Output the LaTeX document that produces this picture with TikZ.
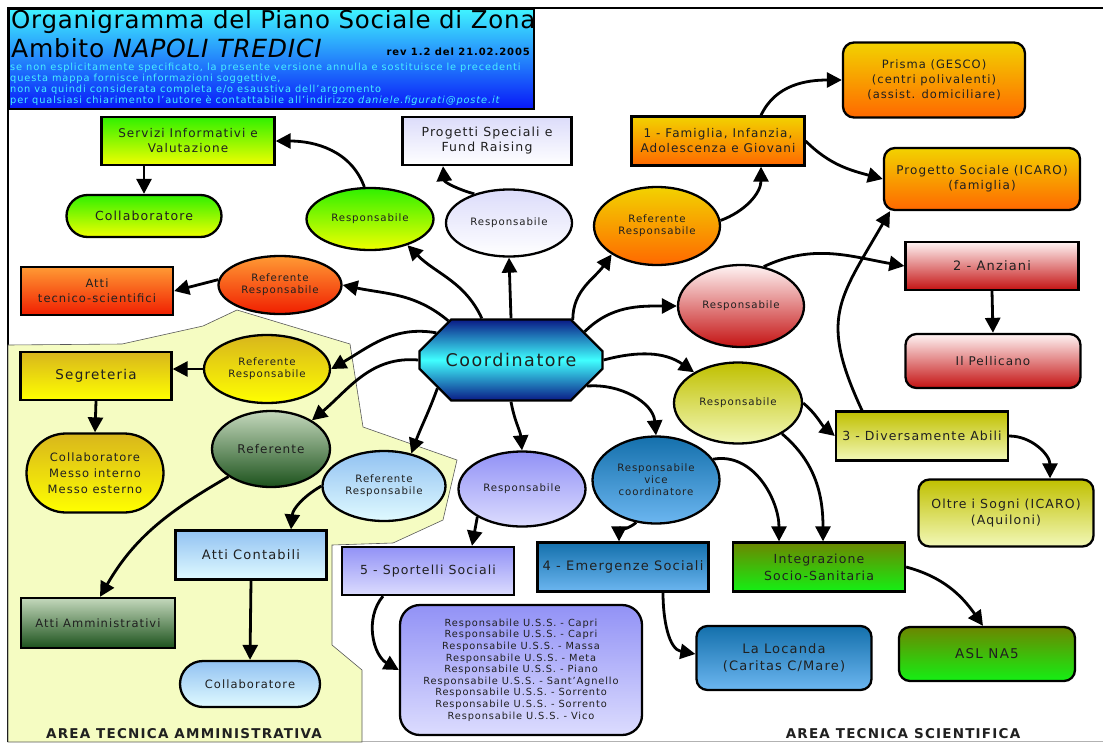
\documentclass[tikz,border=0pt]{standalone}
\usepackage{fontspec}
\setmainfont{DejaVu Sans}[LetterSpace=9]
\newfontfamily\titlefont{DejaVu Sans}[LetterSpace=3]
\usetikzlibrary{arrows.meta,shapes.geometric,shapes.misc}

% colours of the chart
\definecolor{ink}{HTML}{202020}
\definecolor{areaFill}{HTML}{F5FCC2}
\definecolor{hdrT}{HTML}{40F4FF}
\definecolor{hdrB}{HTML}{0818F8}
\definecolor{noteC}{HTML}{48F0FF}
\definecolor{crdE}{HTML}{0A1A86}
\definecolor{crdM}{HTML}{40FFFF}
\definecolor{grnT}{HTML}{30F000}
\definecolor{grnB}{HTML}{F0FF00}
\definecolor{lavT}{HTML}{DCDCFA}
\definecolor{lavB}{HTML}{FFFFFF}
\definecolor{redT}{HTML}{FF9A34}
\definecolor{redB}{HTML}{F01E00}
\definecolor{orgT}{HTML}{F2D200}
\definecolor{orgB}{HTML}{FF6800}
\definecolor{pnkT}{HTML}{FFF4F4}
\definecolor{pnkB}{HTML}{C41212}
\definecolor{olvT}{HTML}{C0C000}
\definecolor{olvB}{HTML}{F2F8B8}
\definecolor{bluT}{HTML}{1470AC}
\definecolor{bluB}{HTML}{6CB6F0}
\definecolor{isgT}{HTML}{6C8600}
\definecolor{isgB}{HTML}{14F014}
\definecolor{purT}{HTML}{9292F6}
\definecolor{purB}{HTML}{DCDCFE}
\definecolor{yelT}{HTML}{D8B61C}
\definecolor{yelB}{HTML}{FFFF00}
\definecolor{dgrT}{HTML}{C4D8BC}
\definecolor{dgrB}{HTML}{1C521C}
\definecolor{lbT}{HTML}{92C2F2}
\definecolor{lbB}{HTML}{E0FAFF}

\tikzset{
  fs/.style={font=\fontsize{#1}{15}\selectfont},
  box/.style 2 args={draw=black, line width=2.3pt, top color=#1, bottom color=#2,
    text=ink, align=center, inner sep=0pt, font=\fontsize{12.5}{15}\selectfont},
  rbox/.style 2 args={box={#1}{#2}, rounded corners=11pt},
  pill/.style 2 args={box={#1}{#2}, rounded rectangle},
  oval/.style 2 args={box={#1}{#2}, ellipse, font=\fontsize{10.2}{12}\selectfont},
  note/.style={anchor=west, inner sep=0pt, text=noteC, font=\fontsize{9.8}{11}\selectfont},
  link/.style={line width=2.8pt, -{Triangle[length=15pt,width=15pt]}},
}

\begin{document}
\begin{tikzpicture}[x=1pt,y=1pt]
\useasboundingbox (0,0) rectangle (1103,-742);

% page frame
\draw[line width=2pt] (8,-742) -- (8,-8) -- (1103,-8);
\draw[gray!60, line width=1pt] (8,-741) -- (1103,-741);

% area tecnica amministrativa (background)
\filldraw[fill=areaFill, draw=gray!70!black, line width=0.6pt]
  (8,-345) -- (122,-344) -- (203,-326) -- (237,-310) -- (350,-344) -- (363,-427)
  -- (457,-460) -- (443,-520) -- (393,-543) -- (332,-545) -- (332,-645)
  -- (362,-670) -- (362,-742) -- (8,-742) -- cycle;

% header
\node[draw=black, line width=1.5pt, top color=hdrT, bottom color=hdrB, anchor=north west,
  minimum width=525pt, minimum height=100pt, inner sep=0pt] (header) at (8,-8) {};
\node[anchor=west, inner sep=0pt, font=\titlefont\fontsize{24.5}{26}\selectfont] (title) at (11,-22)
  {Organigramma del Piano Sociale di Zona};
\node[anchor=west, inner sep=0pt, font=\titlefont\fontsize{25}{26}\selectfont] (ambito) at (11,-48)
  {Ambito \textit{NAPOLI TREDICI}};
\node[anchor=east, inner sep=0pt, font=\bfseries\fontsize{10}{12}\selectfont] (rev) at (530,-52)
  {rev 1.2 del 21.02.2005};
\node[note] (noteA) at (10,-68) {se non esplicitamente specificato, la presente versione annulla e sostituisce le precedenti};
\node[note] (noteB) at (10,-79) {questa mappa fornisce informazioni soggettive,};
\node[note] (noteC) at (10,-90) {non va quindi considerata completa e/o esaustiva dell'argomento};
\node[note] (noteD) at (10,-101) {per qualsiasi chiarimento l'autore è contattabile all'indirizzo \textit{daniele.figurati@poste.it}};

% coordinatore
\node[draw=black, line width=2.3pt, chamfered rectangle, chamfered rectangle xsep=28pt,
  chamfered rectangle ysep=25pt, minimum width=183pt, minimum height=81pt, inner sep=0pt,
  top color=crdE, bottom color=crdE, middle color=crdM, text=ink,
  font=\fontsize{17.5}{20}\selectfont] (coord) at (511,-360) {Coordinatore};

% top left
\node[box={grnT}{grnB}, fs=12, minimum width=173pt, minimum height=48pt] (servizi) at (188,-141) {Servizi Informativi e\\Valutazione};
\node[pill={grnT}{grnB}, minimum width=155pt, minimum height=42pt] (collabG) at (144,-216) {Collaboratore};
\node[oval={grnT}{grnB}, minimum width=127pt, minimum height=62pt] (respG) at (370,-219) {Responsabile};
\node[box={lavT}{lavB}, minimum width=169pt, minimum height=48pt] (progetti) at (487,-141) {Progetti Speciali e\\Fund Raising};
\node[oval={lavT}{lavB}, minimum width=126pt, minimum height=67pt] (respP) at (509,-223) {Responsabile};
\node[oval={redT}{redB}, minimum width=123pt, minimum height=58pt] (refR) at (280,-285) {Referente\\Responsabile};
\node[box={redT}{redB}, fs=11.5, minimum width=152pt, minimum height=48pt] (attiTS) at (97,-291) {Atti\\tecnico-scientifici};

% top right
\node[oval={orgT}{orgB}, minimum width=126pt, minimum height=78pt] (refO) at (657,-226) {Referente\\Responsabile};
\node[box={orgT}{orgB}, fs=12, minimum width=173pt, minimum height=49pt] (famiglia) at (718,-141) {1 - Famiglia, Infanzia,\\Adolescenza e Giovani};
\node[rbox={orgT}{orgB}, fs=11.5, minimum width=182pt, minimum height=75pt] (prisma) at (934,-80) {Prisma (GESCO)\\(centri polivalenti)\\(assist. domiciliare)};
\node[rbox={orgT}{orgB}, fs=12, minimum width=196pt, minimum height=62pt] (progSoc) at (982,-179) {Progetto Sociale (ICARO)\\(famiglia)};
\node[oval={pnkT}{pnkB}, minimum width=126pt, minimum height=82pt] (respR) at (741,-306) {Responsabile};
\node[box={pnkT}{pnkB}, fs=13, minimum width=173pt, minimum height=48pt] (anziani) at (992,-266) {2 - Anziani};
\node[rbox={pnkT}{pnkB}, fs=12, minimum width=175pt, minimum height=54pt] (pellicano) at (993,-361) {Il Pellicano};
\node[oval={olvT}{olvB}, minimum width=128pt, minimum height=81pt] (respY) at (738,-403) {Responsabile};
\node[box={olvT}{olvB}, minimum width=172pt, minimum height=49pt] (divAbili) at (922,-436) {3 - Diversamente Abili};
\node[rbox={olvT}{olvB}, font=\fontsize{12.5}{16}\selectfont, minimum width=175pt, minimum height=67pt] (oltre) at (1006,-513) {Oltre i Sogni (ICARO)\\(Aquiloni)};
\node[oval={bluT}{bluB}, minimum width=127pt, minimum height=87pt] (vice) at (656,-480) {Responsabile\\vice\\coordinatore};
\node[box={bluT}{bluB}, fs=13, minimum width=171pt, minimum height=49pt] (emerg) at (623,-567) {4 - Emergenze Sociali};
\node[box={isgT}{isgB}, font=\fontsize{12.5}{17}\selectfont, minimum width=172pt, minimum height=49pt] (integr) at (819,-567) {Integrazione\\Socio-Sanitaria};
\node[rbox={isgT}{isgB}, fs=13.5, minimum width=176pt, minimum height=54pt] (asl) at (987,-654) {ASL NA5};
\node[rbox={bluT}{bluB}, font=\fontsize{13}{17}\selectfont, minimum width=175pt, minimum height=64pt] (locanda) at (784,-658) {La Locanda\\(Caritas C/Mare)};

% bottom middle
\node[oval={purT}{purB}, minimum width=127pt, minimum height=75pt] (respPu) at (522,-489) {Responsabile};
\node[box={purT}{purB}, minimum width=172pt, minimum height=48pt] (sport) at (428,-571) {5 - Sportelli Sociali};
\node[rbox={purT}{purB}, rounded corners=20pt, font=\fontsize{9.8}{11.6}\selectfont,
  minimum width=242pt, minimum height=130pt] (lista) at (521,-670)
  {Responsabile U.S.S. - Capri\\Responsabile U.S.S. - Capri\\Responsabile U.S.S. - Massa\\
   Responsabile U.S.S. - Meta\\Responsabile U.S.S. - Piano\\Responsabile U.S.S. - Sant'Agnello\\
   Responsabile U.S.S. - Sorrento\\Responsabile U.S.S. - Sorrento\\Responsabile U.S.S. - Vico};

% area tecnica amministrativa
\node[oval={yelT}{yelB}, minimum width=126pt, minimum height=68pt] (refY) at (267,-369) {Referente\\Responsabile};
\node[box={yelT}{yelB}, fs=13.5, minimum width=151pt, minimum height=48pt] (segr) at (96,-376) {Segreteria};
\node[pill={yelT}{yelB}, font=\fontsize{11.5}{16}\selectfont, minimum width=137pt, minimum height=79pt] (collabY) at (95,-473) {Collaboratore\\Messo interno\\Messo esterno};
\node[oval={dgrT}{dgrB}, font=\fontsize{12}{14}\selectfont, minimum width=118pt, minimum height=76pt] (referente) at (271,-449) {Referente};
\node[box={dgrT}{dgrB}, fs=11.5, minimum width=154pt, minimum height=50pt] (attiAmm) at (98,-623) {Atti Amministrativi};
\node[oval={lbT}{lbB}, minimum width=123pt, minimum height=70pt] (refLB) at (384,-486) {Referente\\Responsabile};
\node[box={lbT}{lbB}, fs=13, minimum width=151pt, minimum height=49pt] (attiC) at (251,-555) {Atti Contabili};
\node[pill={lbT}{lbB}, fs=11.5, minimum width=140pt, minimum height=46pt] (collabLB) at (250,-684) {Collaboratore};

% area labels
\node[inner sep=0pt, text=ink, font=\bfseries\fontsize{13.5}{15}\selectfont] (labAmm) at (184,-734) {AREA TECNICA AMMINISTRATIVA};
\node[inner sep=0pt, text=ink, font=\bfseries\fontsize{13.5}{15}\selectfont] (labSci) at (903,-734) {AREA TECNICA SCIENTIFICA};

% connectors from the coordinatore
\draw[link] (coord.148) to[out=140,in=-12] (refR.east);
\draw[link] (coord.125) to[out=115,in=-45] (respG.-35);
\draw[link] (coord.north) -- (respP.south);
\draw[link] (coord.33) to[out=90,in=-125] (refO.-148);
\draw[link] (coord.21) to[out=45,in=180] (respR.west);
\draw[link] (coord.east) to[out=15,in=145] (respY.145);
\draw[link] (coord.-19) to[out=5,in=95] (vice.north);
\draw[link] (coord.south) to[out=-80,in=95] (respPu.north);
\draw[link] (coord.201) to[out=-110,in=70] (refLB.50);
\draw[link] (coord.west) to[out=175,in=40] (referente.35);
\draw[link] (coord.160) to[out=170,in=30] (refY.east);

% top left
\draw[link] (respG.100) to[out=110,in=0] (servizi.east);
\draw[link] (collabG.north |- servizi.south) -- (collabG.north);
\draw[link] (respP.140) to[out=165,in=-85] ([xshift=-44pt]progetti.south);
\draw[link] (refR.175) -- (attiTS.east);

% top right
\draw[link] (refO.5) to[out=20,in=-90] ([xshift=43pt]famiglia.south);
\draw[link] ([xshift=43pt]famiglia.north) to[out=65,in=180] (prisma.west);
\draw[link] (famiglia.east) to[out=-45,in=165] (progSoc.west);
\draw[link] (respR.60) to[out=25,in=170] (anziani.west);
\draw[link] (anziani.south) -- (pellicano.north);
\draw[link] (respY.east) to[out=-40,in=140] (divAbili.west);
\draw[link] ([xshift=-60pt]divAbili.north) to[out=115,in=-120,looseness=1.3] ([xshift=-92pt]progSoc.south);
\draw[link] (divAbili.east) to[out=0,in=90] ([xshift=44pt]oltre.north);
\draw[link] (respY.-35) to[out=-40,in=90] ([xshift=4pt]integr.north);
\draw[link] (vice.20) to[out=10,in=90] ([xshift=-40pt]integr.north);
\draw[link] (vice.-115) to[out=-140,in=90] ([xshift=-4pt]emerg.north);
\draw[link] ([xshift=40pt]emerg.south) to[out=-90,in=170] ([yshift=4pt]locanda.west);
\draw[link] (integr.east) to[out=-15,in=125] ([xshift=-4pt]asl.north);

% bottom middle
\draw[link] (respPu.-148) -- ([xshift=44pt]sport.north);
\draw[link] ([xshift=-45pt]sport.south) to[out=-130,in=150] (lista.west);

% area tecnica amministrativa
\draw[link] (refY.west) -- (refY.west -| segr.east);
\draw[link] (segr.south) -- (collabY.north);
\draw[link] (referente.-147) to[out=-150,in=60] ([xshift=2pt]attiAmm.north);
\draw[link] (refLB.west) to[out=-150,in=85] ([xshift=40pt]attiC.north);
\draw[link] (attiC.south) -- (collabLB.north);
\end{tikzpicture}
\end{document}
